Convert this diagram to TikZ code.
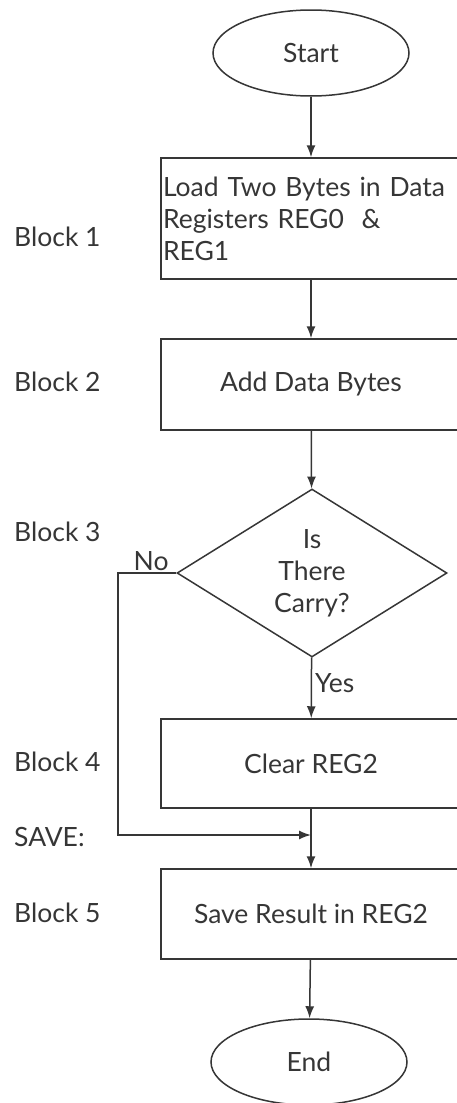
\documentclass[tikz,border=0pt]{standalone}
\usepackage{fontspec}
\setmainfont{Lato}
\usetikzlibrary{shapes.geometric,arrows.meta}
\definecolor{inkgray}{HTML}{363636}
\begin{document}
\begin{tikzpicture}[x=1pt,y=-1pt,
        every node/.style={text=inkgray,font=\fontsize{26.5}{32}\selectfont},
        terminal/.style={draw=inkgray,line width=1.5pt,ellipse,minimum width=196pt,minimum height=86pt,inner sep=0pt},
        process/.style={draw=inkgray,line width=1.5pt,rectangle,minimum width=300pt,inner sep=2pt},
        decision/.style={draw=inkgray,line width=1.5pt,diamond,shape aspect=1.6,minimum width=270pt,minimum height=168pt,inner sep=0pt,align=center},
        blocklabel/.style={anchor=west,inner sep=0pt},
        flow/.style={draw=inkgray,line width=1.5pt,-{Latex[length=12pt,width=9pt]}}]
                \useasboundingbox (0,0) rectangle (456,1103);

                \node[terminal] (start) at (311,53) {Start};
                \node[process,minimum height=121pt,text width=296pt,align=left] (load) at (311,218.5)
                    {Load Two Bytes in Data\\Registers REG0 \ \&\\REG1};
                \node[process,minimum height=91pt] (add) at (311,384.5) {Add Data Bytes};
                \node[decision] (carry) at (312,573) {Is\\There\\Carry?};
                \node[process,minimum height=89pt] (clear) at (311,763.5) {Clear REG2};
                \node[process,minimum height=90pt] (save) at (311,914) {Save Result in REG2};
                \node[terminal] (end) at (309,1062) {End};

                \coordinate (nobend) at (118,573);
                \coordinate (merge) at (311,835);

                \node[blocklabel] (b1) at (14,237) {Block 1};
                \node[blocklabel] (b2) at (14,382) {Block 2};
                \node[blocklabel] (b3) at (14,532) {Block 3};
                \node[blocklabel] (b4) at (14,762) {Block 4};
                \node[blocklabel] (savelbl) at (14,837) {SAVE:};
                \node[blocklabel] (b5) at (14,913) {Block 5};

                \draw[flow] (start) -- (load);
                \draw[flow] (load) -- (add);
                \draw[flow] (add) -- (carry);
                \draw[flow] (carry) -- node[right,pos=0.42,inner sep=3pt] {Yes} (clear);
                \draw[flow] (carry.west) -- node[above,inner sep=2pt,xshift=4pt] {No} (nobend) |- (merge);
                \draw[flow] (clear) -- (save);
                \draw[flow] (save) -- (end);

            \end{tikzpicture}
\end{document}
